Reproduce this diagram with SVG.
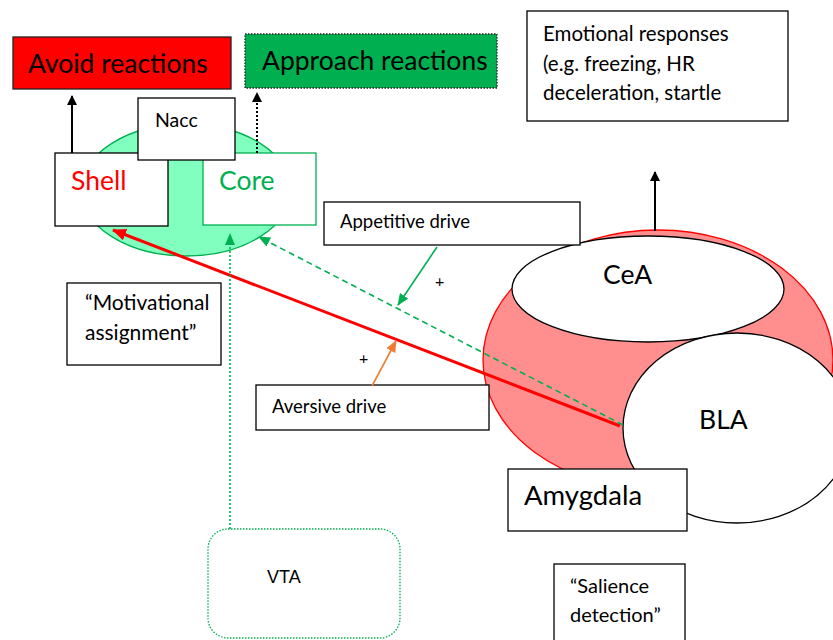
<svg xmlns="http://www.w3.org/2000/svg" width="833" height="640" viewBox="0 0 833 640">
<style>
text{font-family:Lato,"Liberation Sans",sans-serif;fill:#000}
.box{fill:#fff;stroke:#000;stroke-width:1.3}
.lbl{font-size:18.5px}
.big{font-size:26.5px}
</style>
<defs>
<marker id="ak" markerWidth="10" markerHeight="10" refX="9" refY="5" orient="auto" markerUnits="userSpaceOnUse"><path d="M0,0 L10,5 L0,10 Z" fill="#000"/></marker>
<marker id="ar" markerWidth="14" markerHeight="12" refX="13" refY="6" orient="auto" markerUnits="userSpaceOnUse"><path d="M0,0 L14,6 L0,12 Z" fill="#ff0000"/></marker>
<marker id="ag" markerWidth="12" markerHeight="10" refX="11" refY="5" orient="auto" markerUnits="userSpaceOnUse"><path d="M0,0 L12,5 L0,10 Z" fill="#00b050"/></marker>
<marker id="ao" markerWidth="12" markerHeight="10" refX="11" refY="5" orient="auto" markerUnits="userSpaceOnUse"><path d="M0,0 L12,5 L0,10 Z" fill="#ed7d31"/></marker>
</defs>

<g id="amygdala-region">
<ellipse cx="658" cy="360" rx="175" ry="130" fill="#ff8f8f" stroke="#ff0000" stroke-width="1.3"/>
</g>
<g id="nacc-region">
<ellipse cx="186" cy="190" rx="105" ry="66" fill="#80ffbf" stroke="#00b050" stroke-width="1.3"/>
</g>

<g id="avoid">
<rect x="13" y="37" width="218" height="52" fill="#ff0000" stroke="#222" stroke-width="1.3"/>
<text x="28" y="73" class="big">Avoid reactions</text>
</g>
<g id="approach">
<rect x="245" y="34" width="252" height="54" fill="#00b050" stroke="#222" stroke-width="1.3" stroke-dasharray="1.5,1.5"/>
<text x="262" y="70" class="big">Approach reactions</text>
</g>
<g id="shell">
<rect x="55" y="153" width="113" height="73" class="box"/>
<text x="71" y="190" class="big" style="fill:#ff0000">Shell</text>
</g>
<g id="core">
<rect x="203" y="153" width="113" height="72" fill="#fff" stroke="#00b050" stroke-width="1.3"/>
<text x="219" y="190" class="big" style="fill:#00b050">Core</text>
</g>
<g id="nacc">
<rect x="138" y="98" width="97" height="62" class="box"/>
<text x="155" y="127" font-size="19.5">Nacc</text>
</g>
<g id="emotional">
<rect x="527" y="11" width="261" height="110" class="box"/>
<text x="543" y="41" font-size="20.5">Emotional responses</text>
<text x="543" y="71" font-size="20.5">(e.g. freezing, HR</text>
<text x="543" y="100" font-size="20.5">deceleration, startle</text>
</g>
<g id="cea">
<ellipse cx="648" cy="289" rx="136" ry="53" fill="#fff" stroke="#000" stroke-width="1.3"/>
<text x="603" y="284" class="big">CeA</text>
</g>
<g id="bla">
<ellipse cx="737" cy="428" rx="114" ry="95" fill="#fff" stroke="#000" stroke-width="1.3"/>
<text x="699" y="429" class="big">BLA</text>
</g>
<g id="amygdala">
<rect x="508" y="469" width="179" height="62" class="box"/>
<text x="524" y="505" font-size="27.5">Amygdala</text>
</g>
<g id="appetitive">
<rect x="324" y="202" width="256" height="43" class="box"/>
<text x="340" y="228" class="lbl">Appetitive drive</text>
</g>
<g id="aversive">
<rect x="256" y="385" width="233" height="45" class="box"/>
<text x="272" y="413" class="lbl">Aversive drive</text>
</g>
<g id="motivational">
<rect x="67" y="283" width="154" height="82" class="box"/>
<text x="85" y="310" font-size="21">“Motivational</text>
<text x="85" y="340" font-size="21">assignment”</text>
</g>
<g id="vta">
<rect x="208" y="529" width="192" height="109" rx="20" fill="#fff" stroke="#00b050" stroke-width="1.3" stroke-dasharray="1.5,1.5"/>
<text x="267" y="583" font-size="18" style="font-family:'Liberation Sans',Arial,sans-serif">VTA</text>
</g>
<g id="salience">
<rect x="554" y="564" width="131" height="80" class="box"/>
<text x="570" y="593" font-size="20">“Salience</text>
<text x="570" y="622" font-size="20">detection”</text>
</g>

<g id="connectors" fill="none">
<line x1="72" y1="153" x2="72" y2="96" stroke="#000" stroke-width="2" marker-end="url(#ak)"/>
<line x1="257" y1="153" x2="257" y2="93" stroke="#000" stroke-width="2" stroke-dasharray="2,2" marker-end="url(#ak)"/>
<line x1="655" y1="231" x2="655" y2="172" stroke="#000" stroke-width="2" marker-end="url(#ak)"/>
<line x1="620" y1="426" x2="113" y2="230" stroke="#ff0000" stroke-width="3" marker-end="url(#ar)"/>
<line x1="623" y1="425" x2="259" y2="237" stroke="#00b050" stroke-width="1.6" stroke-dasharray="6,4" marker-end="url(#ag)"/>
<line x1="437" y1="247" x2="398" y2="305" stroke="#00b050" stroke-width="1.6" marker-end="url(#ag)"/>
<line x1="372" y1="386" x2="396" y2="341" stroke="#ed7d31" stroke-width="1.6" marker-end="url(#ao)"/>
<line x1="230" y1="529" x2="230" y2="234" stroke="#00b050" stroke-width="1.6" stroke-dasharray="2,2" marker-end="url(#ag)"/>
</g>
<text x="435" y="287" font-size="16">+</text>
<text x="359" y="364" font-size="16">+</text>
</svg>
